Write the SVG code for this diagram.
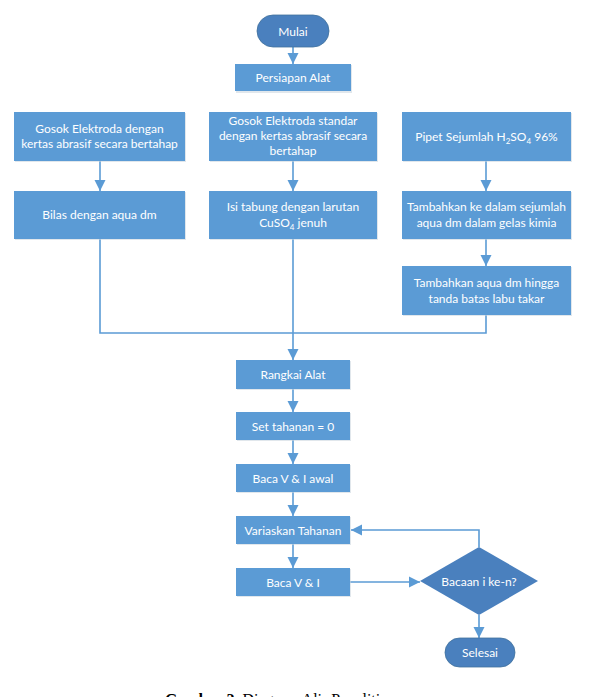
<svg xmlns="http://www.w3.org/2000/svg" width="594" height="697" viewBox="0 0 594 697">
  <style>
    .box { fill: #5B9BD5; }
    .term { fill: #4A80BE; stroke: #41719C; stroke-width: 0.8; }
    .shadow { fill: #c9d3dd; opacity: 0.55; }
    .lbl { fill: #ffffff; font-family: Lato, "Liberation Sans", sans-serif; font-size: 12px; text-anchor: middle; }
    .conn { fill: none; stroke: #5B9BD5; stroke-width: 1.6; }
    .cap { font-family: "Liberation Serif", serif; font-size: 16px; fill: #000; }
  </style>
  <defs>
    <marker id="arrow" viewBox="0 0 10 10" refX="10" refY="5" markerWidth="7" markerHeight="7" markerUnits="userSpaceOnUse" orient="auto">
      <path d="M0,0 L10,5 L0,10 Z" fill="#5B9BD5"/>
    </marker>
    <marker id="arrowL" viewBox="0 0 10 10" refX="10" refY="5" markerWidth="7" markerHeight="7" orient="auto">
      <path d="M0,0 L10,5 L0,10 Z" fill="#5B9BD5"/>
    </marker>
  </defs>

  <!-- connectors -->
  <g id="connectors">
    <path class="conn" d="M293,47 V64" marker-end="url(#arrowL)"/>
    <path class="conn" d="M100,161 V191" marker-end="url(#arrowL)"/>
    <path class="conn" d="M293,161 V191" marker-end="url(#arrowL)"/>
    <path class="conn" d="M486,161 V191" marker-end="url(#arrowL)"/>
    <path class="conn" d="M486,239 V266" marker-end="url(#arrowL)"/>
    <path class="conn" d="M100,239 V333 H486 V315"/>
    <path class="conn" d="M293,239 V360" marker-end="url(#arrowL)"/>
    <path class="conn" d="M293,389 V412" marker-end="url(#arrowL)"/>
    <path class="conn" d="M293,440 V464" marker-end="url(#arrowL)"/>
    <path class="conn" d="M293,492 V516" marker-end="url(#arrowL)"/>
    <path class="conn" d="M293,544 V568" marker-end="url(#arrowL)"/>
    <path class="conn" d="M350,582 H420" marker-end="url(#arrowL)"/>
    <path class="conn" d="M479,547 V530 H351" marker-end="url(#arrowL)"/>
    <path class="conn" d="M479,615 V638" marker-end="url(#arrowL)"/>
  </g>

  <g id="mulai">
    <rect x="257" y="15" width="72" height="32" rx="16" class="term"/>
    <text x="293" y="35.5" class="lbl">Mulai</text>
  </g>

  <g id="persiapan">
    <rect x="236" y="65" width="116" height="28" class="shadow"/>
    <rect x="235" y="64" width="116" height="27" class="box"/>
    <text x="293" y="82" class="lbl">Persiapan Alat</text>
  </g>

  <g id="gosok-elektroda">
    <rect x="15" y="113" width="171" height="49" class="shadow"/>
    <rect x="14" y="112" width="171" height="49" class="box"/>
    <text x="99.5" y="133" class="lbl">Gosok Elektroda dengan</text>
    <text x="99.5" y="148" class="lbl">kertas abrasif secara bertahap</text>
  </g>

  <g id="gosok-standar">
    <rect x="210" y="113" width="168" height="49" class="shadow"/>
    <rect x="209" y="112" width="168" height="49" class="box"/>
    <text x="293" y="125" class="lbl">Gosok Elektroda standar</text>
    <text x="293" y="140" class="lbl">dengan kertas abrasif secara</text>
    <text x="293" y="155" class="lbl">bertahap</text>
  </g>

  <g id="pipet">
    <rect x="403" y="113" width="169" height="49" class="shadow"/>
    <rect x="402" y="112" width="169" height="49" class="box"/>
    <text x="486.5" y="141" class="lbl">Pipet Sejumlah H<tspan font-size="8" dy="3">2</tspan><tspan dy="-3">SO</tspan><tspan font-size="8" dy="3">4</tspan><tspan dy="-3"> 96%</tspan></text>
  </g>

  <g id="bilas">
    <rect x="15" y="192" width="171" height="48" class="shadow"/>
    <rect x="14" y="191" width="171" height="48" class="box"/>
    <text x="99.5" y="219" class="lbl">Bilas dengan aqua dm</text>
  </g>

  <g id="isi-tabung">
    <rect x="210" y="192" width="168" height="48" class="shadow"/>
    <rect x="209" y="191" width="168" height="48" class="box"/>
    <text x="293" y="211" class="lbl">Isi tabung dengan larutan</text>
    <text x="293" y="227" class="lbl">CuSO<tspan font-size="8" dy="3">4</tspan><tspan dy="-3"> jenuh</tspan></text>
  </g>

  <g id="tambahkan-ke-dalam">
    <rect x="403" y="192" width="169" height="48" class="shadow"/>
    <rect x="402" y="191" width="169" height="48" class="box"/>
    <text x="486.5" y="211" class="lbl">Tambahkan ke dalam sejumlah</text>
    <text x="486.5" y="227" class="lbl">aqua dm dalam gelas kimia</text>
  </g>

  <g id="tambahkan-aqua">
    <rect x="403" y="267" width="169" height="49" class="shadow"/>
    <rect x="402" y="266" width="169" height="49" class="box"/>
    <text x="486.5" y="287" class="lbl">Tambahkan aqua dm hingga</text>
    <text x="486.5" y="303" class="lbl">tanda batas labu takar</text>
  </g>

  <g id="rangkai">
    <rect x="237" y="361" width="114" height="29" class="shadow"/>
    <rect x="236" y="360" width="114" height="29" class="box"/>
    <text x="293" y="379" class="lbl">Rangkai Alat</text>
  </g>

  <g id="set-tahanan">
    <rect x="237" y="413" width="114" height="28" class="shadow"/>
    <rect x="236" y="412" width="114" height="28" class="box"/>
    <text x="293" y="430.5" class="lbl">Set tahanan = 0</text>
  </g>

  <g id="baca-awal">
    <rect x="237" y="465" width="114" height="28" class="shadow"/>
    <rect x="236" y="464" width="114" height="28" class="box"/>
    <text x="293" y="482.5" class="lbl">Baca V &amp; I awal</text>
  </g>

  <g id="variaskan">
    <rect x="237" y="517" width="114" height="28" class="shadow"/>
    <rect x="236" y="516" width="114" height="28" class="box"/>
    <text x="293" y="534.5" class="lbl">Variaskan Tahanan</text>
  </g>

  <g id="baca">
    <rect x="237" y="569" width="114" height="28" class="shadow"/>
    <rect x="236" y="568" width="114" height="28" class="box"/>
    <text x="293" y="586.5" class="lbl">Baca V &amp; I</text>
  </g>

  <g id="bacaan">
    <polygon points="479,547 538,581 479,615 420,581" fill="#4A80BE"/>
    <text x="479" y="585.5" class="lbl">Bacaan i ke-n?</text>
  </g>

  <g id="selesai">
    <rect x="445" y="638" width="70" height="29" rx="14.5" class="term"/>
    <text x="480" y="657" class="lbl">Selesai</text>
  </g>

  <text x="165" y="705" class="cap"><tspan font-weight="bold">Gambar 2.</tspan> Diagram Alir Penelitian</text>
</svg>
